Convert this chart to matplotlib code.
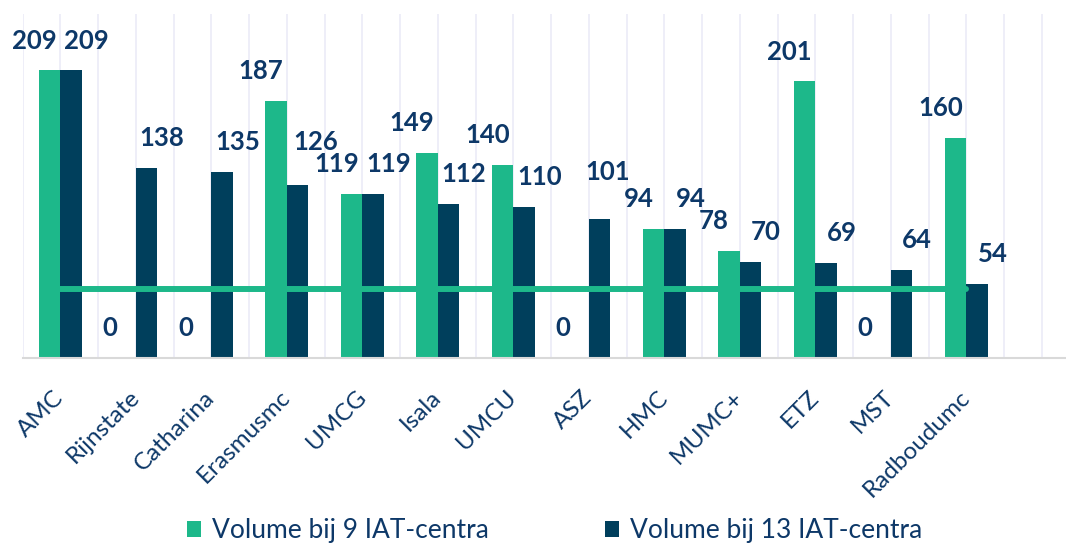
import numpy as np
import matplotlib.pyplot as plt

# data
centra = ["AMC", "Rijnstate", "Catharina", "Erasmusmc", "UMCG", "Isala", "UMCU",
          "ASZ", "HMC", "MUMC+", "ETZ", "MST", "Radboudumc"]
volume_9 = [209, 0, 0, 187, 119, 149, 140, 0, 94, 78, 201, 0, 160]
volume_13 = [209, 138, 135, 126, 119, 112, 110, 101, 94, 70, 69, 64, 54]
drempel = [50, 50, 50, 50, 50, 50, 50, 50, 50, 50, 50, 50, 50]

green = "#1db88a"
navy = "#003f5c"
label_col = "#0d3868"

plt.rcParams['font.family'] = ['Lato', 'DejaVu Sans']

fig = plt.figure(figsize=(10.66, 5.46), dpi=100)
ax = fig.add_axes([22.7 / 1066, (546 - 358) / 546, (1066 - 22.7) / 1066, (358 - 14) / 546])

x = np.arange(len(centra))
w = 0.285
ax.bar(x - w / 2, volume_9, w, color=green, label="Volume bij 9 IAT-centra", zorder=2)
ax.bar(x + w / 2, volume_13, w, color=navy, label="Volume bij 13 IAT-centra", zorder=2)
ax.plot(x, drempel, color=green, lw=4.3, solid_capstyle='round', zorder=3)

# value labels (a few were nudged in the original to avoid overlaps)
nudge_13 = {3: (13, 31), 7: (6, 34)}
for xi, v in zip(x, volume_9):
    ax.annotate(str(v), (xi - w / 2, v), xytext=(-11, 21.5), textcoords='offset points',
                ha='center', va='center', fontsize=18.5, fontweight='bold', color=label_col)
for i, (xi, v) in enumerate(zip(x, volume_13)):
    dx, dy = nudge_13.get(i, (11, 21.5))
    ax.annotate(str(v), (xi + w / 2, v), xytext=(dx, dy), textcoords='offset points',
                ha='center', va='center', fontsize=18.5, fontweight='bold', color=label_col)

ax.set_xlim(-0.5, 13.32)
ax.set_ylim(0, 250)
ax.set_xticks(x)
ax.set_xticklabels(centra, rotation=45, ha='right', va='center', rotation_mode='anchor',
                   fontsize=17.5, color=label_col)
ax.tick_params(axis='x', length=0, pad=26)
ax.set_yticks([])

# vertical gridlines every half category
for g in np.arange(-0.5, 13.01, 0.5):
    ax.axvline(g, color="#ebebf7", lw=1.2, zorder=0)

for s in ['top', 'right', 'left']:
    ax.spines[s].set_visible(False)
ax.spines['bottom'].set_color("#d9d9d9")
ax.spines['bottom'].set_linewidth(1.5)

fig.legend(loc='lower center', bbox_to_anchor=(0.52, 0.0), ncol=2, frameon=False,
           fontsize=19, handlelength=0.55, handleheight=0.55, handletextpad=0.4,
           columnspacing=4.4, labelcolor=label_col, borderpad=0, borderaxespad=0.1)

fig.savefig("out.png", dpi=100)
